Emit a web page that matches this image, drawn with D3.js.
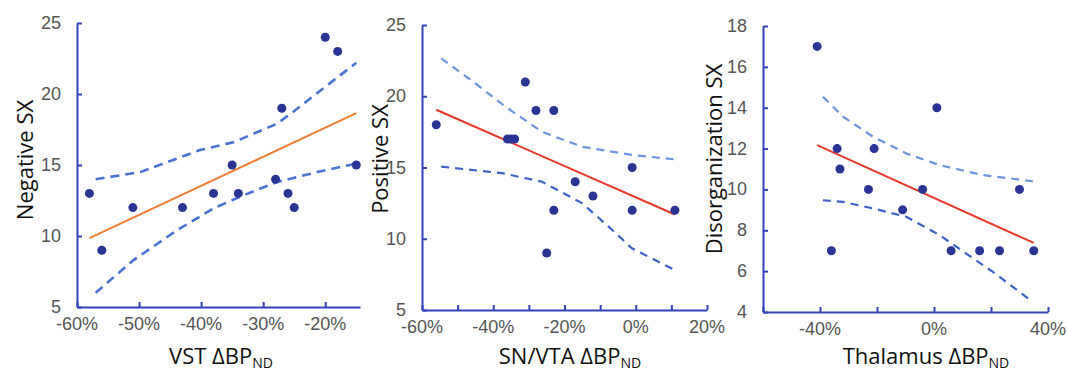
<!DOCTYPE html>
<html>
<head>
<meta charset="utf-8">
<script src="https://cdn.jsdelivr.net/npm/d3@7"></script>
<style>
  body { margin: 0; background: #fff; }
  .tick-label { font-family: "Liberation Sans", Arial, sans-serif; font-size: 18px; fill: #555; }
  .axis-title { font-family: "Open Sans", "Noto Sans", sans-serif; font-size: 22px; fill: #111; }
</style>
</head>
<body>
<div id="chart"></div>
<script>
// ---- Panel 1: VST vs Negative SX ----
const vstX = [-58, -56, -51, -43, -38, -35, -34, -28, -27, -26, -25, -20, -18, -15];
const vstY = [13, 9, 12, 12, 13, 15, 13, 14, 19, 13, 12, 24, 23, 15];
const vstFitX = [-58, -15];
const vstFitY = [9.85, 18.65];
const vstUpperX = [-57, -49.8, -40.2, -34.8, -27.8, -25.6, -20, -15];
const vstUpperY = [14.0, 14.5, 16.05, 16.6, 17.9, 18.6, 20.5, 22.2];
const vstLowerX = [-57, -50.9, -43.9, -38, -33.7, -27.8, -21.3, -15];
const vstLowerY = [6.0, 8.3, 10.4, 11.95, 12.77, 13.8, 14.5, 15.1];

// ---- Panel 2: SN/VTA vs Positive SX ----
const snX = [-56, -36, -35, -34, -31, -28, -23, -23, -25, -17, -12, -1, -1, 11];
const snY = [18, 17, 17, 17, 21, 19, 19, 12, 9, 14, 13, 15, 12, 12];
const snFitX = [-56, 11];
const snFitY = [19.05, 11.7];
const snUpperX = [-54.6, -45, -36.6, -26.3, -15.1, -1.1, 11];
const snUpperY = [22.66, 20.9, 19.27, 17.5, 16.46, 15.88, 15.57];
const snLowerX = [-54.6, -37.5, -26.3, -15.1, -7.6, -1.1, 11];
const snLowerY = [15.06, 14.6, 14.0, 12.5, 10.85, 9.33, 7.8];

// ---- Panel 3: Thalamus vs Disorganization SX ----
const thX = [-41, -36, -34, -33, -23, -21, -11, -4, 1, 6, 16, 23, 30, 35];
const thY = [17, 7, 12, 11, 10, 12, 9, 10, 14, 7, 7, 7, 10, 7];
const thFitX = [-41, 35];
const thFitY = [12.17, 7.38];
const thUpperX = [-39, -31.9, -21.4, -9.7, 2, 17.2, 34.7];
const thUpperY = [14.54, 13.56, 12.58, 11.76, 11.19, 10.7, 10.4];
const thLowerX = [-39, -31.9, -21.4, -9.7, 2, 11.3, 20.7, 34.7];
const thLowerY = [9.47, 9.39, 9.07, 8.66, 7.76, 6.86, 5.96, 4.49];

// tick values / labels
const ticks1X = [-60, -50, -40, -30, -20];
const labels1X = [-60, -50, -40, -30, -20];
const ticks1Y = [5, 10, 15, 20, 25];
const ticks2X = [-60, -50, -40, -30, -20, -10, 0, 10, 20];
const labels2X = [-60, -40, -20, 0, 20];
const ticks2Y = [5, 10, 15, 20, 25];
const ticks3X = [-60, -40, -20, 0, 20, 40];
const labels3X = [-40, 0, 40];
const ticks3Y = [4, 6, 8, 10, 12, 14, 16, 18];

const width = 1067, height = 374;
const axisColor = "#3342b8";
const dotColor = "#2a3494";

const svg = d3.select("#chart").append("svg")
    .attr("width", width)
    .attr("height", height);

const zip = (xs, ys) => xs.map((x, i) => [x, ys[i]]);

function drawPanel(p) {
    const x = d3.scaleLinear().domain(p.xDomain).range(p.xRange);
    const y = d3.scaleLinear().domain(p.yDomain).range(p.yRange);
    const g = svg.append("g");

    const line = d3.line().x(d => x(d[0])).y(d => y(d[1]));

    // confidence bands (dashed)
    g.append("path")
        .attr("d", line(zip(p.upperX, p.upperY)))
        .attr("fill", "none")
        .attr("stroke", p.upperColor)
        .attr("stroke-width", p.dashWidth)
        .attr("stroke-dasharray", p.dash);
    g.append("path")
        .attr("d", line(zip(p.lowerX, p.lowerY)))
        .attr("fill", "none")
        .attr("stroke", p.lowerColor)
        .attr("stroke-width", p.dashWidth)
        .attr("stroke-dasharray", p.dash);

    // regression fit
    g.append("path")
        .attr("d", line(zip(p.fitX, p.fitY)))
        .attr("fill", "none")
        .attr("stroke", p.fitColor)
        .attr("stroke-width", 2);

    // points
    g.selectAll(".dot")
        .data(zip(p.xs, p.ys))
        .join("circle")
        .attr("class", "dot")
        .attr("cx", d => x(d[0]))
        .attr("cy", d => y(d[1]))
        .attr("r", 4.5)
        .attr("fill", dotColor);

    // axes: inward ticks, labels drawn separately
    const xAxis = g.append("g")
        .attr("transform", `translate(0,${p.yRange[0]})`)
        .call(d3.axisTop(x).tickValues(p.xTicks).tickSize(5).tickFormat("").tickSizeOuter(0));
    const yAxis = g.append("g")
        .attr("transform", `translate(${p.xRange[0]},0)`)
        .call(d3.axisRight(y).tickValues(p.yTicks).tickSize(5).tickFormat("").tickSizeOuter(0));
    [xAxis, yAxis].forEach(a => {
        a.select(".domain").attr("stroke", axisColor).attr("stroke-width", 2);
        a.selectAll(".tick line").attr("stroke", axisColor).attr("stroke-width", 2);
    });

    // tick labels
    g.selectAll(".xl")
        .data(p.xLabels)
        .join("text")
        .attr("class", "tick-label")
        .attr("x", d => x(d))
        .attr("y", p.yRange[0] + 23)
        .attr("text-anchor", "middle")
        .text(d => d + "%");
    g.selectAll(".yl")
        .data(p.yTicks)
        .join("text")
        .attr("class", "tick-label")
        .attr("x", p.xRange[0] - 16)
        .attr("y", d => y(d) + 6)
        .attr("text-anchor", "end")
        .text(d => d);

    // y title
    g.append("text")
        .attr("class", "axis-title")
        .attr("transform", `translate(${p.yTitleX},${p.yTitleY}) rotate(-90)`)
        .attr("text-anchor", "middle")
        .text(p.yTitle);

    // x title with subscript
    const t = g.append("text")
        .attr("class", "axis-title")
        .attr("x", p.xTitleX)
        .attr("y", 364)
        .attr("text-anchor", "middle");
    t.append("tspan").text(p.xTitle + " ΔBP");
    t.append("tspan").attr("font-size", "14px").attr("dy", 4).text("ND");
}

drawPanel({
    xs: vstX, ys: vstY, fitX: vstFitX, fitY: vstFitY,
    upperX: vstUpperX, upperY: vstUpperY, lowerX: vstLowerX, lowerY: vstLowerY,
    xDomain: [-60, -14.4], xRange: [77, 360],
    yDomain: [5, 25], yRange: [307, 23],
    xTicks: ticks1X, xLabels: labels1X, yTicks: ticks1Y,
    fitColor: "#ee7d35", upperColor: "#4a72d4", lowerColor: "#4a72d4",
    dash: "9,6", dashWidth: 2.6,
    yTitle: "Negative SX", yTitleX: 33, yTitleY: 160,
    xTitle: "VST", xTitleX: 221
});

drawPanel({
    xs: snX, ys: snY, fitX: snFitX, fitY: snFitY,
    upperX: snUpperX, upperY: snUpperY, lowerX: snLowerX, lowerY: snLowerY,
    xDomain: [-60, 20], xRange: [422, 707],
    yDomain: [5, 25], yRange: [310, 25],
    xTicks: ticks2X, xLabels: labels2X, yTicks: ticks2Y,
    fitColor: "#e8392b", upperColor: "#6d94e0", lowerColor: "#3d62c9",
    dash: "8,6", dashWidth: 2.2,
    yTitle: "Positive SX", yTitleX: 388, yTitleY: 159,
    xTitle: "SN/VTA", xTitleX: 570
});

drawPanel({
    xs: thX, ys: thY, fitX: thFitX, fitY: thFitY,
    upperX: thUpperX, upperY: thUpperY, lowerX: thLowerX, lowerY: thLowerY,
    xDomain: [-60, 40], xRange: [763, 1048],
    yDomain: [4, 18], yRange: [312, 26],
    xTicks: ticks3X, xLabels: labels3X, yTicks: ticks3Y,
    fitColor: "#e8392b", upperColor: "#6d94e0", lowerColor: "#3d62c9",
    dash: "8,6", dashWidth: 2.2,
    yTitle: "Disorganization SX", yTitleX: 722, yTitleY: 159,
    xTitle: "Thalamus", xTitleX: 926
});
</script>
</body>
</html>
